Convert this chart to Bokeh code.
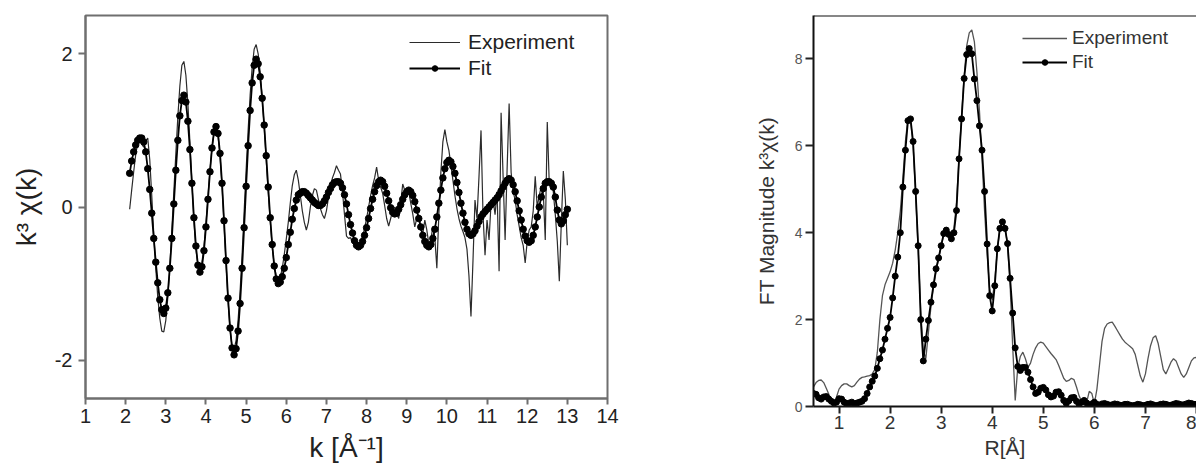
from bokeh.plotting import figure
from bokeh.layouts import row
from bokeh.models import Range1d, FixedTicker, Legend, LegendItem, Span
from bokeh.embed import file_html
from bokeh.resources import INLINE

FONT = "Liberation Sans"

# ---------------- left panel: k^3 chi(k) ----------------
k_start, k_step = 2.10, 0.05
chi_fit = [
    0.44, 0.60, 0.72, 0.81, 0.87, 0.90, 0.90, 0.85, 0.72, 0.50,
    0.23, -0.08, -0.41, -0.72, -0.99, -1.21, -1.34, -1.39, -1.32, -1.12,
    -0.80, -0.41, 0.04, 0.48, 0.87, 1.19, 1.39, 1.46, 1.37, 1.12,
    0.75, 0.31, -0.14, -0.51, -0.76, -0.85, -0.78, -0.57, -0.26, 0.10,
    0.46, 0.77, 0.98, 1.05, 0.96, 0.70, 0.31, -0.18, -0.70, -1.19,
    -1.58, -1.84, -1.93, -1.85, -1.62, -1.26, -0.80, -0.27, 0.27, 0.80,
    1.26, 1.62, 1.85, 1.93, 1.87, 1.70, 1.42, 1.07, 0.67, 0.26,
    -0.14, -0.49, -0.77, -0.94, -1.00, -0.98, -0.91, -0.80, -0.66, -0.49,
    -0.33, -0.16, -0.02, 0.09, 0.16, 0.18, 0.20, 0.20, 0.18, 0.15,
    0.12, 0.09, 0.06, 0.04, 0.02, 0.02, 0.04, 0.08, 0.13, 0.19,
    0.24, 0.29, 0.32, 0.33, 0.33, 0.31, 0.25, 0.16, 0.04, -0.10,
    -0.23, -0.34, -0.44, -0.50, -0.52, -0.50, -0.45, -0.37, -0.27, -0.15,
    -0.02, 0.10, 0.20, 0.28, 0.33, 0.35, 0.33, 0.27, 0.18, 0.08,
    -0.01, -0.07, -0.09, -0.08, -0.03, 0.03, 0.10, 0.16, 0.20, 0.22,
    0.20, 0.15, 0.07, -0.04, -0.15, -0.26, -0.37, -0.45, -0.50, -0.52,
    -0.49, -0.41, -0.29, -0.13, 0.05, 0.22, 0.38, 0.50, 0.58, 0.61,
    0.59, 0.53, 0.44, 0.32, 0.19, 0.05, -0.08, -0.20, -0.29, -0.35,
    -0.37, -0.35, -0.31, -0.25, -0.19, -0.13, -0.09, -0.06, -0.03, 0.00,
    0.03, 0.06, 0.09, 0.12, 0.16, 0.21, 0.26, 0.31, 0.35, 0.37,
    0.35, 0.29, 0.20, 0.08, -0.05, -0.17, -0.29, -0.38, -0.44, -0.46,
    -0.44, -0.37, -0.26, -0.13, 0.00, 0.13, 0.24, 0.31, 0.33, 0.33,
    0.31, 0.26, 0.13, -0.04, -0.17, -0.22, -0.18, -0.10, -0.03,
]
chi_exp = [
    -0.03, 0.22, 0.46, 0.68, 0.84, 0.90, 0.82, 0.78, 0.86, 0.90,
    0.62, 0.15, -0.35, -0.80, -1.18, -1.45, -1.62, -1.63, -1.48, -1.18,
    -0.78, -0.30, 0.20, 0.70, 1.18, 1.58, 1.85, 1.90, 1.72, 1.35,
    0.85, 0.32, -0.18, -0.55, -0.76, -0.80, -0.72, -0.52, -0.22, 0.14,
    0.48, 0.77, 0.96, 1.02, 0.93, 0.67, 0.28, -0.22, -0.74, -1.22,
    -1.60, -1.82, -1.86, -1.74, -1.48, -1.10, -0.62, -0.07, 0.48, 1.00,
    1.46, 1.82, 2.06, 2.12, 2.00, 1.76, 1.42, 1.05, 0.62, 0.20,
    -0.18, -0.52, -0.76, -0.90, -0.95, -0.92, -0.80, -0.62, -0.42, -0.20,
    0.05, 0.28, 0.42, 0.48, 0.35, 0.15, -0.05, -0.20, -0.30, -0.20,
    0.00, 0.15, 0.24, 0.22, 0.10, -0.02, -0.10, -0.15, -0.05, 0.12,
    0.28, 0.38, 0.45, 0.54, 0.48, 0.43, 0.20, -0.10, -0.38, -0.41,
    -0.40, -0.46, -0.50, -0.52, -0.50, -0.46, -0.38, -0.28, -0.15, 0.00,
    0.15, 0.28, 0.38, 0.52, 0.35, 0.26, 0.18, 0.02, -0.15, -0.25,
    -0.15, -0.05, 0.00, -0.08, -0.15, 0.05, 0.30, 0.22, 0.15, 0.20,
    0.05, -0.09, -0.26, -0.15, -0.10, -0.30, -0.35, -0.17, -0.30, -0.48,
    -0.43, -0.26, -0.40, -0.80, -0.10, 0.45, 0.85, 1.01, 0.85, 0.74,
    0.55, 0.35, 0.15, -0.02, -0.15, -0.25, -0.32, -0.40, -0.55, -0.90,
    -1.43, -0.70, 0.09, -0.15, 0.40, 1.00, -0.10, -0.63, -0.17, -0.43,
    0.05, 0.10, -0.10, 0.20, -0.84, 1.23, 0.40, -0.43, 0.50, 1.35,
    0.45, 0.20, 0.09, -0.10, -0.25, -0.40, -0.50, -0.73, -0.45, -0.30,
    -0.26, -0.05, 0.40, 0.00, 0.15, 0.27, 0.20, -0.43, 1.11, 0.30,
    0.35, 0.20, -0.10, -0.45, -0.97, -0.20, 0.47, 0.10, -0.50,
]
k_vals = [round(k_start + k_step * i, 2) for i in range(len(chi_fit))]
k_ticks = list(range(1, 15))
chi_ticks = [-2, 0, 2]

# ---------------- right panel: FT magnitude ----------------
r_start, r_step = 0.50, 0.05
ft_fit = [
    0.30, 0.28, 0.20, 0.17, 0.22, 0.23, 0.17, 0.12, 0.08, 0.10,
    0.18, 0.17, 0.10, 0.06, 0.08, 0.10, 0.06, 0.08, 0.10, 0.12,
    0.18, 0.30, 0.45, 0.58, 0.70, 0.88, 1.10, 1.30, 1.55, 1.80,
    2.05, 2.50, 3.00, 3.44, 4.00, 5.05, 5.90, 6.58, 6.62, 6.10,
    4.95, 3.70, 2.00, 1.05, 1.55, 1.98, 2.40, 2.80, 3.17, 3.42,
    3.70, 3.98, 4.06, 3.96, 3.86, 4.00, 4.51, 5.70, 6.62, 7.55,
    8.10, 8.24, 8.12, 7.54, 7.04, 6.46, 5.90, 4.95, 3.74, 2.55,
    2.20, 2.78, 3.63, 4.10, 4.25, 4.10, 3.75, 2.95, 2.15, 1.35,
    0.92, 0.83, 0.90, 0.90, 0.79, 0.62, 0.45, 0.30, 0.33, 0.42,
    0.44, 0.38, 0.27, 0.22, 0.24, 0.33, 0.34, 0.26, 0.14, 0.07,
    0.13, 0.20, 0.21, 0.12, 0.06, 0.10, 0.14, 0.08, 0.02, 0.06,
    0.10, 0.05, 0.03, 0.06, 0.07, 0.05, 0.03, 0.04, 0.06, 0.05,
    0.03, 0.03, 0.05, 0.05, 0.03, 0.02, 0.03, 0.05, 0.04, 0.02,
    0.03, 0.05, 0.06, 0.04, 0.02, 0.03, 0.05, 0.06, 0.05, 0.03,
    0.03, 0.05, 0.07, 0.06, 0.04, 0.04, 0.06, 0.08, 0.07, 0.05,
    0.05,
]
ft_exp = [
    0.45, 0.55, 0.60, 0.61, 0.55, 0.42, 0.28, 0.15, 0.07, 0.22,
    0.40, 0.48, 0.52, 0.52, 0.48, 0.45, 0.48, 0.56, 0.63, 0.67,
    0.68, 0.70, 0.71, 0.75, 0.85, 1.25, 2.00, 2.55, 2.80, 2.95,
    3.10, 3.30, 3.60, 4.00, 4.50, 5.25, 6.10, 6.65, 6.60, 6.00,
    4.90, 3.60, 2.20, 1.30, 1.10, 1.70, 2.30, 2.75, 3.10, 3.40,
    3.70, 3.95, 4.05, 3.98, 3.90, 4.10, 4.70, 5.70, 6.70, 7.60,
    8.30, 8.60, 8.67, 8.40, 7.70, 6.80, 5.70, 4.50, 3.50, 2.70,
    2.45, 2.90, 3.60, 4.10, 4.30, 4.15, 3.70, 2.80, 1.40, 0.14,
    0.90, 1.15, 1.25, 1.10, 0.90, 1.00, 1.20, 1.35, 1.45, 1.48,
    1.46, 1.38, 1.30, 1.22, 1.15, 1.08, 0.95, 0.80, 0.65, 0.58,
    0.60, 0.65, 0.62, 0.45, 0.25, 0.12, 0.07, 0.10, 0.35, 0.30,
    0.06, 0.40, 0.95, 1.50, 1.80, 1.90, 1.93, 1.94, 1.85, 1.75,
    1.65, 1.55, 1.48, 1.43, 1.38, 1.33, 1.20, 0.95, 0.70, 0.56,
    0.75, 1.10, 1.40, 1.58, 1.63, 1.45, 1.15, 0.85, 0.75, 0.88,
    1.02, 1.10, 1.05, 0.90, 0.75, 0.67, 0.75, 0.90, 1.05, 1.12,
    1.13,
]
r_vals = [round(r_start + r_step * i, 2) for i in range(len(ft_fit))]
r_ticks = [1, 2, 3, 4, 5, 6, 7, 8]
ft_ticks = [0, 2, 4, 6, 8]

# ================= left figure =================
p1 = figure(output_backend="svg", toolbar_location=None,
            frame_width=522, frame_height=383,
            min_border_left=85, min_border_right=93,
            min_border_top=15, min_border_bottom=78,
            x_range=Range1d(1, 14), y_range=Range1d(-2.5, 2.5))
p1.grid.visible = False
p1.outline_line_color = "#6f6f6f"
p1.outline_line_width = 2
p1.background_fill_color = "white"
p1.border_fill_color = "white"

exp1 = p1.line(k_vals, chi_exp, line_color="#2b2b2b", line_width=1.2)
fit1_l = p1.line(k_vals, chi_fit, line_color="black", line_width=1.8)
fit1_s = p1.scatter(k_vals, chi_fit, size=6.5, marker="circle",
                    fill_color="black", line_color="black")

for ax in (p1.xaxis[0], p1.yaxis[0]):
    ax.axis_line_color = "#6f6f6f"
    ax.axis_line_width = 2
    ax.major_tick_line_color = "#6f6f6f"
    ax.major_tick_line_width = 2
    ax.major_tick_in = 0
    ax.minor_tick_line_color = None
    ax.major_label_text_font = FONT
    ax.major_label_text_font_size = "20px"
    ax.major_label_text_color = "#222222"
    ax.axis_label_text_font = FONT
    ax.axis_label_text_font_style = "normal"
    ax.axis_label_text_font_size = "28px"
    ax.axis_label_text_color = "#222222"

p1.xaxis.ticker = FixedTicker(ticks=k_ticks)
p1.yaxis.ticker = FixedTicker(ticks=chi_ticks)
p1.yaxis.major_label_overrides = {t: str(t) for t in chi_ticks}
p1.xaxis.axis_label = "k [Å⁻¹]"
p1.yaxis.axis_label = "k³ χ(k)"
p1.xaxis.major_tick_out = 6
p1.xaxis.major_label_standoff = 4
p1.xaxis.axis_label_standoff = 6
p1.yaxis.major_tick_out = 7
p1.yaxis.major_label_standoff = 6
p1.yaxis.axis_label_standoff = 10

leg1 = Legend(items=[LegendItem(label="Experiment", renderers=[exp1]),
                     LegendItem(label="Fit", renderers=[fit1_l, fit1_s])],
              location="top_right", margin=14, padding=0, spacing=0,
              glyph_width=51, glyph_height=14, label_standoff=8,
              label_width=125, label_height=26,
              label_text_font=FONT, label_text_font_size="21px",
              label_text_color="#222222",
              border_line_color=None, background_fill_alpha=0)
p1.add_layout(leg1)

# ================= right figure =================
p2 = figure(output_backend="svg", toolbar_location=None,
            frame_width=383, frame_height=391,
            min_border_left=113, min_border_right=0,
            min_border_top=15, min_border_bottom=70,
            x_range=Range1d(0.5, 8.0), y_range=Range1d(0, 9))
p2.grid.visible = False
p2.outline_line_color = None
p2.background_fill_color = "white"
p2.border_fill_color = "white"
p2.add_layout(Span(location=9, dimension="width", line_color="#111111", line_width=2))

exp2 = p2.line(r_vals, ft_exp, line_color="#555555", line_width=1.3)
fit2_l = p2.line(r_vals, ft_fit, line_color="black", line_width=1.8)
fit2_s = p2.scatter(r_vals, ft_fit, size=6, marker="circle",
                    fill_color="black", line_color="black")

for ax in (p2.xaxis[0], p2.yaxis[0]):
    ax.axis_line_color = "#111111"
    ax.axis_line_width = 2
    ax.major_tick_line_color = "#222222"
    ax.major_tick_line_width = 2
    ax.major_tick_in = 0
    ax.minor_tick_line_color = None
    ax.major_label_text_font = FONT
    ax.axis_label_text_font = FONT
    ax.axis_label_text_font_style = "normal"
    ax.axis_label_text_font_size = "21px"
    ax.axis_label_text_color = "#333333"

p2.xaxis.ticker = FixedTicker(ticks=r_ticks)
p2.yaxis.ticker = FixedTicker(ticks=ft_ticks)
p2.xaxis.axis_label = "R[Å]"
p2.yaxis.axis_label = "FT Magnitude k³χ(k)"
p2.xaxis.major_label_text_font_size = "19px"
p2.xaxis.major_label_text_color = "#333333"
p2.yaxis.major_label_text_font_size = "14px"
p2.yaxis.major_label_text_color = "#555555"
p2.xaxis.major_tick_out = 7
p2.xaxis.major_label_standoff = 2
p2.xaxis.axis_label_standoff = 4
p2.yaxis.major_tick_out = 8
p2.yaxis.major_label_standoff = 3
p2.yaxis.axis_label_standoff = 14

leg2 = Legend(items=[LegendItem(label="Experiment", renderers=[exp2]),
                     LegendItem(label="Fit", renderers=[fit2_l, fit2_s])],
              location="top_right", margin=11, padding=0, spacing=0,
              glyph_width=45, glyph_height=14, label_standoff=5,
              label_width=113, label_height=24,
              label_text_font=FONT, label_text_font_size="19px",
              label_text_color="#333333",
              border_line_color=None, background_fill_alpha=0)
p2.add_layout(leg2)

layout = row(p1, p2, spacing=0)
open("out.html", "w").write(file_html(layout, INLINE))
